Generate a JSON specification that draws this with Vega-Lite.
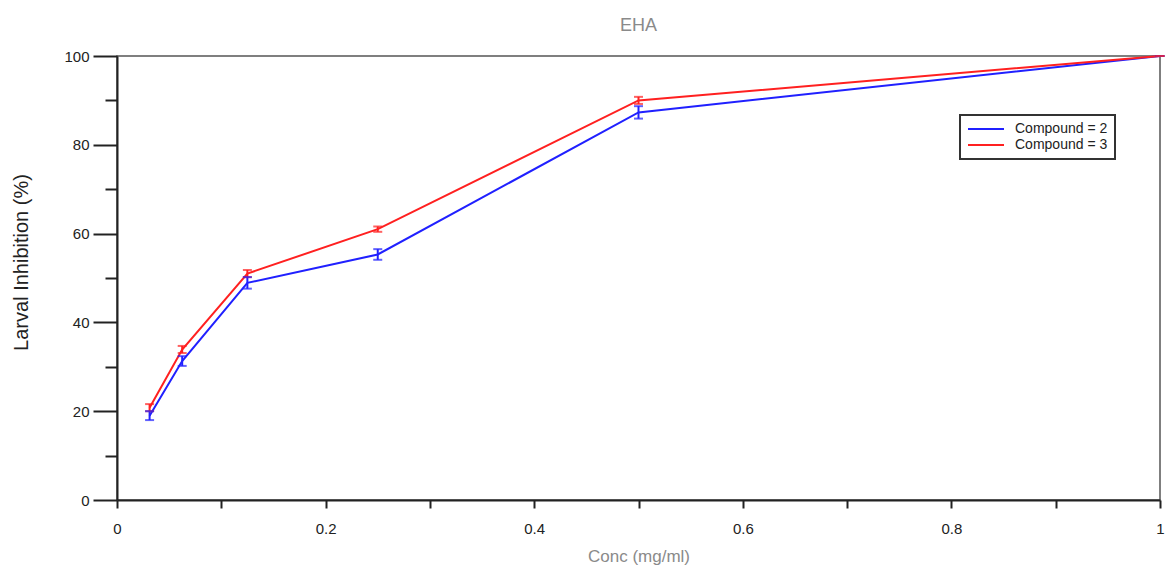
{
  "$schema": "https://vega.github.io/schema/vega-lite/v6.json",
  "width": 1043,
  "height": 444,
  "autosize": {"type": "none"},
  "padding": {"left": 117, "top": 56, "right": 5, "bottom": 65},
  "background": "white",
  "config": {
    "font": "Liberation Sans",
    "view": {"stroke": "#555", "strokeWidth": 1.5},
    "axis": {"grid": false, "domainColor": "#222", "domainWidth": 2, "tickColor": "#222", "tickWidth": 2, "labelFont": "Liberation Sans", "labelColor": "#222", "labelFontSize": 15}
  },
  "title": {"text": "EHA", "color": "#8a8a8a", "fontSize": 18, "fontWeight": "normal", "offset": 14, "font": "Liberation Sans"},
  "data": {
    "values": [
      {"conc": 0.03125, "li": 19.0, "err": 1.0, "series": "c2"},
      {"conc": 0.0625, "li": 31.3, "err": 1.1, "series": "c2"},
      {"conc": 0.125, "li": 48.9, "err": 1.3, "series": "c2"},
      {"conc": 0.25, "li": 55.3, "err": 1.2, "series": "c2"},
      {"conc": 0.5, "li": 87.3, "err": 1.4, "series": "c2"},
      {"conc": 1.0, "li": 100.0, "err": 0.0, "series": "c2"},
      {"conc": 0.03125, "li": 20.8, "err": 0.8, "series": "c3"},
      {"conc": 0.0625, "li": 33.9, "err": 0.8, "series": "c3"},
      {"conc": 0.125, "li": 51.0, "err": 0.8, "series": "c3"},
      {"conc": 0.25, "li": 61.0, "err": 0.6, "series": "c3"},
      {"conc": 0.5, "li": 90.0, "err": 0.8, "series": "c3"},
      {"conc": 1.0, "li": 100.0, "err": 0.0, "series": "c3"}
    ]
  },
  "transform": [
    {"calculate": "datum.li - datum.err", "as": "lo"},
    {"calculate": "datum.li + datum.err", "as": "hi"}
  ],
  "encoding": {
    "x": {"field": "conc", "type": "quantitative", "scale": {"domain": [0, 1], "nice": false, "zero": false},
      "axis": {"title": "Conc (mg/ml)", "titleColor": "#8a8a8a", "titleFontSize": 17, "titleFontWeight": "normal", "titlePadding": 12,
        "values": [0, 0.1, 0.2, 0.3, 0.4, 0.5, 0.6, 0.7, 0.8, 0.9, 1],
        "labelExpr": "round(datum.value * 10) % 2 == 0 ? format(datum.value, '~g') : ''",
        "tickSize": 8, "labelPadding": 13, "labelFlush": false, "labelOverlap": false}},
    "color": {"field": "series", "type": "nominal",
      "scale": {"domain": ["c2", "c3"], "range": ["#2020ff", "#ff2020"]},
      "legend": {"title": null, "orient": "none", "legendX": 843, "legendY": 59,
        "labelExpr": "datum.label == 'c2' ? 'Compound = 2\u00a0\u00a0\u00a0\u00a0\u00a0\u00a0\u00a0\u00a0\u00a0\u00a0\u00a0' : 'Compound = 3\u00a0\u00a0\u00a0\u00a0\u00a0\u00a0\u00a0\u00a0\u00a0\u00a0\u00a0'",
        "strokeColor": "#333", "padding": 7, "symbolType": "M-1,0L5,0", "symbolSize": 144, "symbolStrokeWidth": 2,
        "labelFontSize": 14, "labelColor": "#222", "fillColor": "white", "rowPadding": 2, "labelLimit": 300, "labelOffset": 34,
        "encode": {"legend": {"update": {"strokeWidth": {"value": 2}}}}}}
  },
  "layer": [
    {
      "mark": {"type": "line", "strokeWidth": 2},
      "encoding": {
        "y": {"field": "li", "type": "quantitative", "scale": {"domain": [0, 100], "nice": false},
          "axis": {"title": "Larval Inhibition (%)", "titleColor": "#222", "titleFontSize": 20, "titleFontWeight": "normal", "titlePadding": 32, "titleY": 206,
            "values": [0, 10, 20, 30, 40, 50, 60, 70, 80, 90, 100],
            "labelExpr": "datum.value % 20 == 0 ? datum.label : ''",
            "tickSize": {"condition": {"test": "datum.value % 20 == 0", "value": 24}, "value": 12},
            "labelPadding": 4}}
      }
    },
    {
      "mark": {"type": "rule", "strokeWidth": 2},
      "encoding": {
        "y": {"field": "lo", "type": "quantitative"},
        "y2": {"field": "hi"}
      }
    },
    {
      "mark": {"type": "tick", "thickness": 2, "size": 9, "orient": "horizontal"},
      "encoding": {
        "y": {"field": "lo", "type": "quantitative"}
      }
    },
    {
      "mark": {"type": "tick", "thickness": 2, "size": 9, "orient": "horizontal"},
      "encoding": {
        "y": {"field": "hi", "type": "quantitative"}
      }
    }
  ]
}
